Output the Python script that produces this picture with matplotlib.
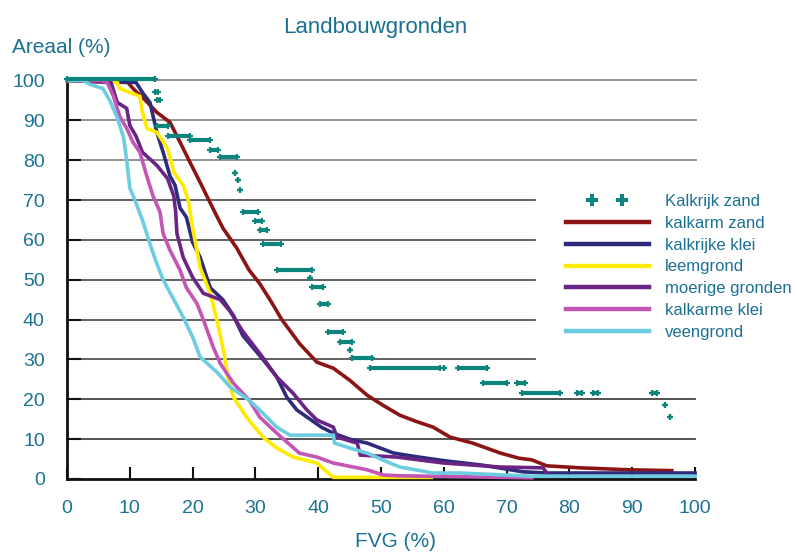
# -*- coding: utf-8 -*-
# Landbouwgronden: areaal (%) met FVG groter dan x

import numpy as np
import matplotlib
matplotlib.use("Agg")
import matplotlib.pyplot as plt
from matplotlib.lines import Line2D
from matplotlib.legend_handler import HandlerLine2D

plt.rcParams['font.family'] = ['Liberation Sans', 'DejaVu Sans']

TXT = '#1B7194'
TEAL = '#0E857C'

labels = ['kalkarm zand', 'kalkrijke klei', 'leemgrond', 'moerige gronden',
          'kalkarme klei', 'veengrond']
colors = ['#8B1414', '#2E2A7C', '#FFEB00', '#6A2584', '#C356B4', '#6DCDE0']

kalkarm_zand_x = [0, 9.7, 10.5, 12.5, 14.3, 16.4, 18, 19.6, 21.2, 23.2, 24.8, 27, 29,
                  30.7, 32.5, 34.2, 37, 39.8, 42.4, 45, 47.8, 50.3, 53, 55.5, 58.3,
                  61, 64.6, 69, 72, 74, 76.4, 81.7, 89.6, 96.3]
kalkarm_zand_y = [100, 99.5, 98, 95, 92, 89.5, 84.5, 79.4, 74.4, 68, 63, 58, 52.4,
                  49, 44.5, 40, 34, 29.3, 27.8, 24.8, 21, 18.5, 16, 14.5, 13,
                  10.5, 9, 6.5, 5.2, 4.8, 3.3, 2.8, 2.3, 2.1]

kalkrijke_klei_x = [0, 11, 12, 13.2, 14.3, 15.3, 16.4, 17.2, 18, 19, 20, 21.2, 22.8,
                    24.8, 26.5, 28, 31.2, 33.4, 35, 36.6, 38.7, 40.5, 42.4, 45, 47.8,
                    52, 56, 60.5, 66, 72.6, 76.4, 100]
kalkrijke_klei_y = [100, 99.5, 97, 94.5, 87, 82, 76, 73.7, 68, 65.7, 59.4, 55.6, 48,
                    45, 41, 36, 30, 25.6, 20.5, 17.3, 15, 13, 11.5, 10, 9,
                    6.5, 5.5, 4.5, 3.5, 1.8, 1.5, 1.5]

leemgrond_x = [0, 8, 8.4, 11.6, 12, 12.7, 14.3, 16, 17, 18.5, 19.3, 20, 21.2, 22.8,
               24, 25, 25.7, 26.5, 28.6, 31.2, 33.4, 36, 39.8, 41, 42.4, 58]
leemgrond_y = [100, 99.5, 98, 96, 92, 88, 87, 83, 77, 73.7, 70, 63, 53, 46.6,
               39, 31.5, 25, 20.5, 15.5, 10.5, 7.8, 5.5, 4, 2.3, 0.4, 0.4]

moerig_x = [0, 7, 8, 9.5, 10, 11, 12, 14.3, 16, 17, 17.3, 17.5, 18.5, 20, 21.7, 24.4,
            26, 28, 30.7, 33.4, 36, 38.2, 39.8, 42.4, 43, 46.2, 46.7, 52.5, 60, 69,
            75.8, 76.4]
moerig_y = [100, 99.5, 94.5, 93, 88.7, 86, 82, 78.7, 75.4, 71, 67, 61.6, 55.6, 50.6,
            46.6, 45, 42, 37, 31.5, 25.6, 21.5, 17.3, 14.8, 13, 10.5, 9, 6, 5.5, 4, 3,
            2.8, 1.5]

kalkarme_klei_x = [0, 5.5, 6.4, 7.4, 8.4, 9.5, 10.5, 11.6, 12.7, 13.7, 14.8, 15.3,
                   16.4, 18, 19, 20.7, 21.7, 23.3, 24.4, 26.5, 29, 30.7, 33.4, 37,
                   39.8, 42.4, 47.8, 50.3, 53, 74]
kalkarme_klei_y = [100, 100, 99.5, 96, 91, 88, 84.5, 82, 76, 71, 67, 61.6,
                   57.4, 52.4, 48, 44, 40, 33, 29, 24, 19.8, 15.5, 11.5, 6.5,
                   5.5, 4, 2.3, 1, 0.8, 0.3]

veengrond_x = [0, 2.5, 3.7, 5.7, 6.8, 8, 9, 9.5, 10, 10.8, 12, 13.2, 14.3, 15.3, 17,
               18.5, 20, 21.2, 24, 26, 29, 31.2, 33.4, 35.5, 42.4, 42.6, 46, 47.8,
               51.4, 53, 58.3, 62.6, 74, 100]
veengrond_y = [100, 100, 99, 98, 95, 90.7, 85.7, 80, 73, 70, 65, 59, 54, 50, 45,
               40.6, 35.6, 30.6, 26.6, 23, 19.8, 16.5, 13, 11, 11, 9, 7.3, 6.5,
               4, 3, 1.5, 1.5, 0.7, 0.7]

# kalkrijk zand: losse reeksen van punten (begin, eind, niveau)
kz_x0 = [0, 14, 14.3, 14.3, 16, 19.6, 22.8, 24.4, 26.8, 27.2, 27.5, 28, 30, 30.7,
         31.2, 33.4, 38.7, 39, 40.3, 41.6, 43.5, 45, 45.4, 48.3, 60, 62.3, 66.2,
         71.6, 72.5, 81.2, 83.8, 93.2, 95.2, 96]
kz_x1 = [14, 14.5, 14.8, 16, 19.6, 22.8, 24, 27, 26.8, 27.2, 27.5, 30.4, 31, 31.8,
         34, 39, 38.7, 40.8, 41.6, 44, 45.4, 45, 48.6, 59.4, 60, 66.9, 70,
         73, 78.5, 82, 84.6, 94, 95.2, 96]
kz_y = [100.4, 97, 95, 88.5, 86, 85, 82.5, 80.7, 76.7, 75, 72.4, 67, 64.7, 62.6,
        59, 52.4, 50.4, 48.2, 44, 37, 34.3, 32.3, 30.3, 27.8, 27.8, 27.8, 24,
        24, 21.5, 21.5, 21.5, 21.5, 18.5, 15.5]

series_x = [kalkarm_zand_x, kalkrijke_klei_x, leemgrond_x, moerig_x,
            kalkarme_klei_x, veengrond_x]
series_y = [kalkarm_zand_y, kalkrijke_klei_y, leemgrond_y, moerig_y,
            kalkarme_klei_y, veengrond_y]

grid_levels = [100, 90, 80, 70, 60, 50, 40, 30, 20, 10]
grid_ends = [100.2, 100.2, 100.2, 74.5, 74.5, 74.5, 74.5, 74.5, 100, 100]
grid_cols = ['#8a8a8a', '#8a8a8a', '#8a8a8a', '#555555', '#555555', '#555555',
             '#555555', '#555555', '#444444', '#444444']

# ---- figuur ----
fig = plt.figure(figsize=(7.97, 5.54), dpi=100)
ax = fig.add_axes([0.0841, 0.1354, 0.788, 0.7193])

for lev, xe, gc in zip(grid_levels, grid_ends, grid_cols):
    ax.plot([0, xe], [lev, lev], color=gc, lw=1.3, zorder=1, clip_on=False)

for xs, ys, c in zip(series_x, series_y, colors):
    ax.plot(xs, ys, color=c, lw=2.6, zorder=3, clip_on=False,
            solid_joinstyle='miter')

ax.hlines(kz_y, kz_x0, kz_x1, color=TEAL, lw=3.0, zorder=4, clip_on=False)
ax.plot(kz_x0 + kz_x1, kz_y + kz_y, ls='none', marker='+', ms=4, mew=1.6,
        color=TEAL, zorder=4, clip_on=False)

ax.set_xlim(0, 100)
ax.set_ylim(0, 100)
for s in ['top', 'right']:
    ax.spines[s].set_visible(False)
for s in ['left', 'bottom']:
    ax.spines[s].set_linewidth(2)
    ax.spines[s].set_color('#111111')

ax.set_xticks(np.arange(0, 101, 10))
ax.set_yticks(np.arange(0, 101, 10))
ax.tick_params(axis='x', direction='in', length=9, width=1.5, colors='#111111',
               labelcolor=TXT, labelsize=14, pad=15)
ax.tick_params(axis='y', direction='in', length=10, width=1.5, colors='#111111',
               labelcolor=TXT, labelsize=14, pad=16)

fig.text(0.471, 0.940, 'Landbouwgronden', color=TXT, fontsize=16,
         ha='center', va='baseline')
fig.text(0.015, 0.904, 'Areaal (%)', color=TXT, fontsize=15,
         ha='left', va='baseline')
fig.text(0.496, 0.013, 'FVG (%)', color=TXT, fontsize=15,
         ha='center', va='baseline')

# legenda
kz_handle = Line2D([], [], ls='none', marker='P', ms=9, color=TEAL,
                   markeredgewidth=0)
handles = [kz_handle] + [Line2D([], [], color=c, lw=3.2) for c in colors]
names = ['Kalkrijk zand'] + labels
leg = ax.legend(handles, names, loc='upper left',
                bbox_to_anchor=(0.691, 0.677), bbox_transform=fig.transFigure,
                frameon=False, fontsize=12, handlelength=4.97,
                handletextpad=0.96, labelspacing=0.41, borderpad=0.4,
                handler_map={kz_handle: HandlerLine2D(numpoints=2, marker_pad=1.6)})
for t in leg.get_texts():
    t.set_color(TXT)

fig.savefig('out.png', dpi=100)
